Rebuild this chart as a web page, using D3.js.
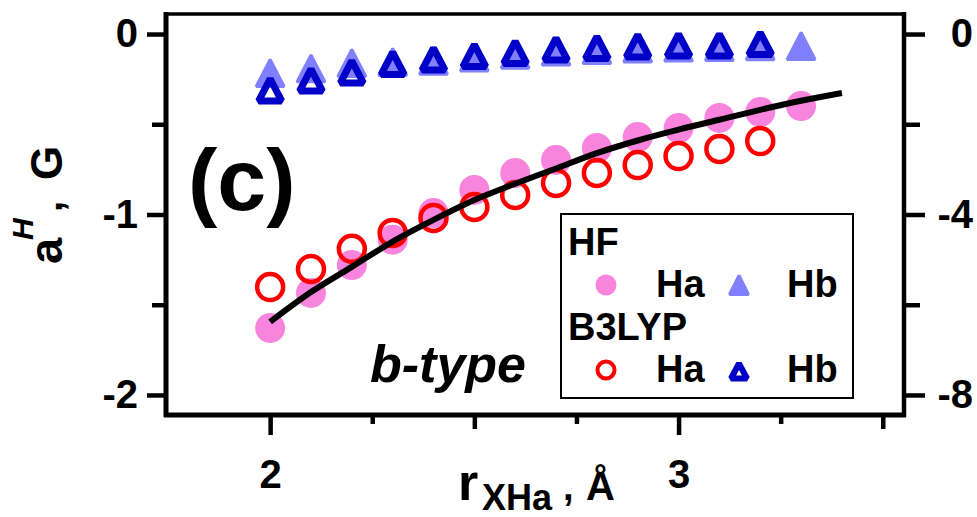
<!DOCTYPE html>
<html>
<head>
<meta charset="utf-8">
<script src="https://cdn.jsdelivr.net/npm/d3@7"></script>
<style>
  body { margin: 0; background: #fff; }
  text { font-family: "Liberation Sans", Arial, sans-serif; font-weight: bold; fill: #000; }
</style>
</head>
<body>
<svg id="canvas" width="977" height="517"></svg>
<script>
// data
let rHF = [2.0, 2.1, 2.2, 2.3, 2.4, 2.5, 2.6, 2.7, 2.8, 2.9, 3.0, 3.1, 3.2, 3.3]
let hfHa = [-1.629, -1.435, -1.28, -1.14, -0.992, -0.864, -0.770, -0.698, -0.632, -0.571, -0.521, -0.465, -0.432, -0.399]
let hfHb = [-0.216, -0.19, -0.16, -0.155, -0.148, -0.13, -0.115, -0.097, -0.088, -0.08, -0.075, -0.072, -0.068, -0.066]

let rB3 = [2.0, 2.1, 2.2, 2.3, 2.4, 2.5, 2.6, 2.7, 2.8, 2.9, 3.0, 3.1, 3.2]
let b3Ha = [-1.402, -1.302, -1.19, -1.102, -1.019, -0.958, -0.892, -0.825, -0.770, -0.726, -0.676, -0.637, -0.593]
let b3Hb = [-0.31, -0.255, -0.21, -0.163, -0.139, -0.119, -0.102, -0.083, -0.075, -0.066, -0.061, -0.061, -0.053]

let fitR = [2.0, 2.1, 2.2, 2.3, 2.4, 2.5, 2.6, 2.7, 2.8, 2.9, 3.0, 3.1, 3.2, 3.3, 3.4]
let fitV = [-1.595, -1.43, -1.29, -1.15, -1.03, -0.92, -0.83, -0.745, -0.66, -0.59, -0.53, -0.475, -0.42, -0.37, -0.327]

let xMajor = [2, 3]
let xMid = [2.5, 3.5]
let xMinor = [2.25, 2.75, 3.25]
let yMajor = [0, -1, -2]
let yMinor = [-0.5, -1.5]
let y2Major = [0, -4, -8]
let y2Minor = [-2, -6]

let pink = '#f984de', lightBlue = '#8080ff', red = '#ff0000', blue = '#0000c8'

let canvas = d3.select('#canvas')

let x = d3.scaleLinear().domain([1.745, 3.552]).range([166, 904])
let y = d3.scaleLinear().domain([-2.111, 0.111]).range([415, 14])
let y2 = d3.scaleLinear().domain([-8.444, 0.444]).range([415, 14])

let tri = (w, h) => 'M0,' + (-h / 2) + 'L' + (w / 2) + ',' + (h / 2) + 'L' + (-w / 2) + ',' + (h / 2) + 'Z'

// frame top
canvas.append('line').attr('x1', 166).attr('x2', 904).attr('y1', 14).attr('y2', 14)
    .attr('stroke', '#000').attr('stroke-width', 3.5)

let styleAxis = (g, sw) => {
    g.select('.domain').remove()
    g.selectAll('line').attr('stroke', '#000').attr('stroke-width', sw)
    g.selectAll('text').style('font-size', '40px')
}

// left axis
let gl = canvas.append('g').attr('transform', 'translate(166,0)')
gl.call(d3.axisLeft(y).tickValues(yMajor).tickSize(19).tickPadding(9).tickFormat(d => String(d)))
styleAxis(gl, 4.5)
let glm = canvas.append('g').attr('transform', 'translate(166,0)')
glm.call(d3.axisLeft(y).tickValues(yMinor).tickSize(14).tickFormat(''))
styleAxis(glm, 4.5)

// right axis
let gr = canvas.append('g').attr('transform', 'translate(904,0)')
gr.call(d3.axisRight(y2).tickValues(y2Major).tickSize(21).tickFormat(d => String(d)))
styleAxis(gr, 4.5)
gr.selectAll('text').attr('text-anchor', 'end').attr('x', 69)
let grm = canvas.append('g').attr('transform', 'translate(904,0)')
grm.call(d3.axisRight(y2).tickValues(y2Minor).tickSize(16).tickFormat(''))
styleAxis(grm, 4.5)

// bottom axis
let gb = canvas.append('g').attr('transform', 'translate(0,415)')
gb.call(d3.axisBottom(x).tickValues(xMajor).tickSize(20).tickPadding(25).tickFormat(d => String(d)))
styleAxis(gb, 4.5)
let gbm = canvas.append('g').attr('transform', 'translate(0,415)')
gbm.call(d3.axisBottom(x).tickValues(xMid).tickSize(14).tickFormat(''))
styleAxis(gbm, 4.5)
let gbn = canvas.append('g').attr('transform', 'translate(0,415)')
gbn.call(d3.axisBottom(x).tickValues(xMinor).tickSize(9).tickFormat(''))
styleAxis(gbn, 4.5)

// axis lines
canvas.append('line').attr('x1', 166).attr('x2', 166).attr('y1', 12).attr('y2', 417)
    .attr('stroke', '#000').attr('stroke-width', 5)
canvas.append('line').attr('x1', 904).attr('x2', 904).attr('y1', 12).attr('y2', 417)
    .attr('stroke', '#000').attr('stroke-width', 4.5)
canvas.append('line').attr('x1', 164).attr('x2', 906).attr('y1', 415).attr('y2', 415)
    .attr('stroke', '#000').attr('stroke-width', 5)

// markers
let hfPts = rHF.map((r, i) => ({r: r, a: hfHa[i], b: hfHb[i]}))
let b3Pts = rB3.map((r, i) => ({r: r, a: b3Ha[i], b: b3Hb[i]}))

canvas.append('g').selectAll('circle').data(hfPts).enter().append('circle')
    .attr('cx', d => x(d.r)).attr('cy', d => y(d.a)).attr('r', 15).attr('fill', pink)

canvas.append('g').selectAll('path').data(hfPts).enter().append('path')
    .attr('transform', d => 'translate(' + x(d.r) + ',' + y(d.b) + ')')
    .attr('d', tri(28, 27)).attr('fill', lightBlue).attr('stroke', lightBlue)
    .attr('stroke-width', 3).attr('stroke-linejoin', 'bevel')

canvas.append('g').selectAll('circle').data(b3Pts).enter().append('circle')
    .attr('cx', d => x(d.r)).attr('cy', d => y(d.a)).attr('r', 13)
    .attr('fill', 'none').attr('stroke', red).attr('stroke-width', 4.5)

canvas.append('g').selectAll('path').data(b3Pts).enter().append('path')
    .attr('transform', d => 'translate(' + x(d.r) + ',' + y(d.b) + ')')
    .attr('d', tri(23, 22)).attr('fill', 'none').attr('stroke', blue)
    .attr('stroke-width', 7).attr('stroke-linejoin', 'bevel')

// fit line
let line = d3.line().x(d => x(d[0])).y(d => y(d[1])).curve(d3.curveMonotoneX)
canvas.append('path').datum(fitR.map((r, i) => [r, fitV[i]]))
    .attr('d', line).attr('fill', 'none').attr('stroke', '#000').attr('stroke-width', 6)

// labels
canvas.append('text').attr('x', 188).attr('y', 210).style('font-size', '88px').text('(c)')
canvas.append('text').attr('x', 370).attr('y', 382).style('font-size', '52px')
    .style('font-style', 'italic').text('b-type')

// x title
let xt = canvas.append('text').attr('y', 500)
xt.append('tspan').attr('x', 458).style('font-size', '52px').text('r')
xt.append('tspan').attr('x', 482).attr('y', 510).style('font-size', '36px').text('XHa')
xt.append('tspan').attr('x', 563).attr('y', 500).style('font-size', '38px').text(',')
xt.append('tspan').attr('x', 586).attr('y', 500).style('font-size', '40px').text('Å')

// y title
let yt = canvas.append('text').attr('transform', 'translate(62,264) rotate(-90)')
yt.append('tspan').attr('x', 0).attr('y', 0).style('font-size', '47px').text('a')
yt.append('tspan').attr('x', 24).attr('y', -29).style('font-size', '30px')
    .style('font-style', 'italic').text('H')
yt.append('tspan').attr('x', 52).attr('y', 0).style('font-size', '40px').text(',')
yt.append('tspan').attr('x', 84).attr('y', 0).style('font-size', '44px').text('G')

// legend
let lg = canvas.append('g')
lg.append('rect').attr('x', 561).attr('y', 214).attr('width', 292).attr('height', 184)
    .attr('fill', '#fff').attr('stroke', '#000').attr('stroke-width', 2)
let legTitles = [['HF', 255], ['B3LYP', 340]]
lg.selectAll('text.title').data(legTitles).enter().append('text').attr('class', 'title')
    .attr('x', 568).attr('y', d => d[1]).style('font-size', '38px').text(d => d[0])
let legRows = [297, 382]
legRows.forEach(b => {
    lg.append('text').attr('x', 656).attr('y', b).style('font-size', '38px').text('Ha')
    lg.append('text').attr('x', 787).attr('y', b).style('font-size', '38px').text('Hb')
})
lg.append('circle').attr('cx', 606).attr('cy', 285).attr('r', 10.5).attr('fill', pink)
lg.append('path').attr('transform', 'translate(739,285)').attr('d', tri(19, 19))
    .attr('fill', lightBlue).attr('stroke', lightBlue).attr('stroke-width', 3).attr('stroke-linejoin', 'bevel')
lg.append('circle').attr('cx', 606).attr('cy', 370).attr('r', 8.5)
    .attr('fill', 'none').attr('stroke', red).attr('stroke-width', 4)
lg.append('path').attr('transform', 'translate(739,371)').attr('d', tri(16, 15))
    .attr('fill', 'none').attr('stroke', blue).attr('stroke-width', 6).attr('stroke-linejoin', 'bevel')
</script>
</body>
</html>
